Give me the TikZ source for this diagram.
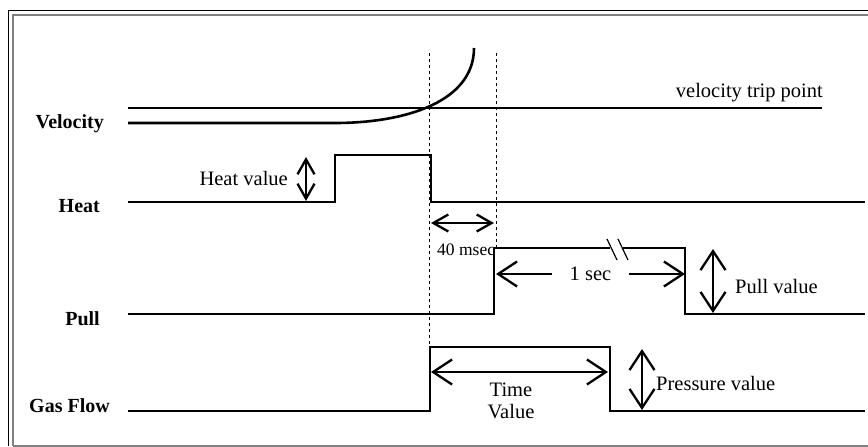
\documentclass[tikz,border=0pt]{standalone}
\usepackage{fontspec}
\setmainfont{Liberation Serif}
\usetikzlibrary{positioning}
\usetikzlibrary{arrows.meta}

\begin{document}
\begin{tikzpicture}[x=1pt, y=-1pt,
signal/.style={line width=2.6pt},
trippoint/.style={line width=1.3pt},
marker/.style={dashed, dash pattern=on 3pt off 3pt, line width=0.9pt},
span/.style={line width=2.3pt, {Straight Barb[length=19pt,width=25pt]}-{Straight Barb[length=19pt,width=25pt]}},
smallspan/.style={line width=2.3pt, {Straight Barb[length=15pt,width=17pt]}-{Straight Barb[length=15pt,width=17pt]}},
namenode/.style={font=\bfseries\fontsize{20}{24}\selectfont, anchor=base east, inner sep=0pt},
valuenode/.style={font=\fontsize{20.5}{22}\selectfont, inner sep=0pt},
]
\useasboundingbox (0,0) rectangle (868,447);

%Frame
\draw[line width=1pt] (8,446) -- (8,10) -- (868,10);
\draw[gray, line width=2pt] (13,446) -- (13,15) -- (868,15);
\draw[gray, line width=1.2pt] (13,446) -- (868,446);

%Nodes
\node[namenode] (velocity) at (104,128) {Velocity};
\node[namenode] (heat)     at (100,212) {Heat};
\node[namenode] (pull)     at (100,325) {Pull};
\node[namenode] (gas)      at (110,412) {Gas Flow};

\node[valuenode, anchor=base east] (trip) at (823,97) {velocity trip point};
\node[valuenode, anchor=base east] (heatval) at (288,185) {Heat value};
\node[valuenode, anchor=base west, font=\fontsize{17.5}{20}\selectfont] (delay) at (437,255) {40 msec};
\node[valuenode, anchor=base west] (pullval) at (735,293) {Pull value};
\node[valuenode, align=center] (timeval) at (511,401) {Time\\Value};
\node[valuenode, anchor=base west] (pressval) at (656,390) {Pressure value};

%Coordinates
\coordinate (heatup)   at (335,155);
\coordinate (heatdown) at (431,155);
\coordinate (pullup)   at (494,248);
\coordinate (pulldown) at (685,248);
\coordinate (gasup)    at (430,347);
\coordinate (gasdown)  at (610,347);

%Signals
\draw[trippoint] (128,108) -- (822,108);
\draw[signal] (128,123) -- (335,123) .. controls (405,123) and (474,102) .. (474,48);
\draw[signal] (128,202) -- (heatup |- 0,202) -- (heatup) -- (heatdown) -- (heatdown |- 0,202) -- (865,202);
\draw[signal] (128,314) -- (pullup |- 0,314) -- (pullup) -- (610,248);
\draw[signal] (623,248) -- (pulldown) -- (pulldown |- 0,314) -- (865,314);
\draw[line width=1.2pt] (607,239) -- (617,260) (618,239) -- (628,260);
\draw[signal] (128,411) -- (gasup |- 0,411) -- (gasup) -- (gasdown) -- (gasdown |- 0,411) -- (865,411);

%Markers
\draw[marker] (429,53) -- (429,347);
\draw[marker] (496,53) -- (496,248);

%Lines
\draw[smallspan] (306,157) -- (306,201);
\draw[smallspan] (431,223) -- (494,223);
\draw[span] (496,274) -- node[valuenode, fill=white, inner xsep=18pt, inner ysep=2pt] (onesec) {1 sec} (685,274);
\draw[span] (713,249) -- (713,313);
\draw[span] (431,372) -- (608,372);
\draw[span] (642,349) -- (642,410);
\end{tikzpicture}
\end{document}
